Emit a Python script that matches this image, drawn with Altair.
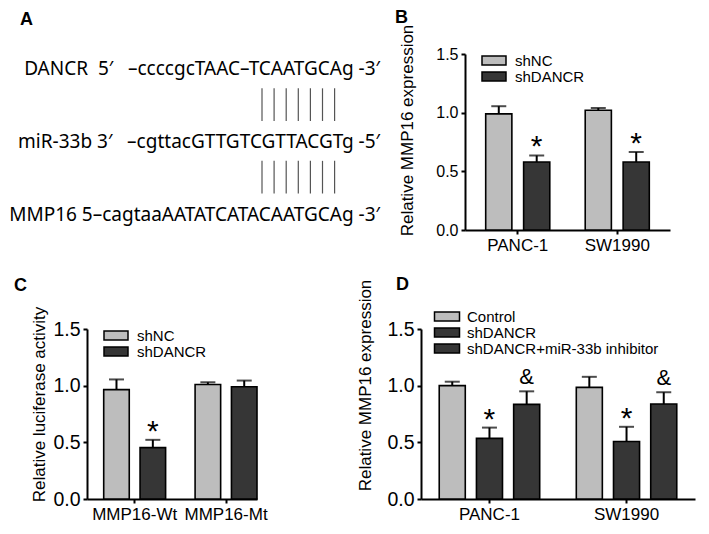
import altair as alt
import pandas as pd

FONT = "Liberation Sans"
SEQ_FONT = "Noto Sans"
LIGHT = "#bdbdbd"
DARK = "#363636"
NB = "\u00a0"

# ---------------- Panel A: sequence alignment ----------------
seq_rows = [
    "DANCR" + NB * 2 + "5\u2032" + NB * 3 + "\u2013ccccgcTAAC\u2013TCAATGCAg" + NB + "-3\u2032",
    "miR-33b" + NB + "3\u2032" + NB * 3 + "\u2013cgttacGTTGTCGTTACGTg" + NB + "-5\u2032",
    "MMP16" + NB + "5\u2013cagtaaAATATCATACAATGCAg" + NB + "-3\u2032",
]
seq_row_index = [0, 1, 2]
seq_last_pair = [6, 6, 6]          # index of the last paired nucleotide
pair_gaps = [0, 1]
pair_index = [0, 1, 2, 3, 4, 5, 6]

# ---------------- Panel B ----------------
b_cells = ["PANC-1", "PANC-1", "SW1990", "SW1990"]
b_groups = ["shNC", "shDANCR", "shNC", "shDANCR"]
b_values = [0.99, 0.58, 1.02, 0.58]
b_errors = [1.055, 0.635, 1.04, 0.665]
b_marks = ["", "*", "", "*"]

# ---------------- Panel C ----------------
c_cells = ["MMP16-Wt", "MMP16-Wt", "MMP16-Mt", "MMP16-Mt"]
c_groups = ["shNC", "shDANCR", "shNC", "shDANCR"]
c_values = [0.965, 0.453, 1.01, 0.99]
c_errors = [1.055, 0.522, 1.03, 1.045]
c_marks = ["", "*", "", ""]

# ---------------- Panel D ----------------
d_cells = ["PANC-1"] * 3 + ["SW1990"] * 3
d_groups = ["Control", "shDANCR", "shDANCR+miR-33b inhibitor"] * 2
d_values = [1.0, 0.535, 0.835, 0.985, 0.508, 0.838]
d_errors = [1.035, 0.63, 0.95, 1.078, 0.637, 0.942]
d_marks = ["", "*", "&", "", "*", "&"]

# ---------------- layout ----------------
COL_SP, ROW_SP = 164, 99
A_W, C_W = 170, 170
B_INSET, B_W = 44, 205
D_W = 274
ROW1_H, ROW2_H = 176, 170


def letter(t, dx, dy):
    return alt.TitleParams(t, anchor="start", frame="group", dx=dx, dy=dy,
                           fontSize=18, fontWeight="bold", font=FONT, color="black")


# Panel A chart
rows_df = pd.DataFrame({"row": seq_row_index, "seq": seq_rows, "anchor": seq_last_pair})
pairs_df = pd.DataFrame([{"gap": g, "idx": i} for g in pair_gaps for i in pair_index])
y_rows = alt.Scale(domain=[-0.2134, 2.2134], reverse=True)
x_pairs = alt.Scale(domain=[0, 6], range=[175, 247.6])

seq_text = alt.Chart(rows_df).mark_text(
    align="right", baseline="middle", fontSize=19, font=SEQ_FONT, color="black", dx=45.4
).encode(
    x=alt.X("anchor:Q", scale=x_pairs, axis=None),
    y=alt.Y("row:Q", scale=y_rows, axis=None),
    text="seq:N",
)
pair_lines = alt.Chart(pairs_df).transform_calculate(
    top="datum.gap + 0.26", bottom="datum.gap + 0.71"
).mark_rule(color="#555555", strokeWidth=1.2).encode(
    x=alt.X("idx:Q", scale=x_pairs, axis=None),
    y=alt.Y("top:Q", scale=y_rows, axis=None),
    y2="bottom:Q",
)
panel_a = alt.layer(seq_text, pair_lines).properties(
    width=A_W, height=ROW1_H, title=letter("A", -67, -21)
)


def bar_panel(cells, groups, values, errors, marks, colors, inset, width, height,
              pad_in, pad_out, align, off_pad, y_title, tick_font, title_x, title_y,
              legend_x, legend_y, sym_path, label_offset, let, let_dx, let_dy):
    df = pd.DataFrame({"cell": cells, "grp": groups, "val": values,
                       "err": errors, "mark": marks})
    cell_order = list(dict.fromkeys(cells))
    grp_order = list(dict.fromkeys(groups))
    base = alt.Chart(df).encode(
        x=alt.X("cell:N", sort=cell_order,
                scale=alt.Scale(paddingInner=pad_in, paddingOuter=pad_out, align=align,
                                range=[inset, inset + width]),
                axis=alt.Axis(title=None, labelAngle=0, labelFontSize=17)),
        xOffset=alt.XOffset("grp:N", sort=grp_order,
                            scale=alt.Scale(paddingInner=off_pad, paddingOuter=0)),
    )
    bars = base.mark_bar(stroke="black", strokeWidth=1.6).encode(
        y=alt.Y("val:Q", scale=alt.Scale(domain=[0, 1.5], nice=False),
                axis=alt.Axis(values=[0, 0.5, 1.0, 1.5], format=".1f", title=y_title,
                              labelFontSize=tick_font, titleX=title_x, titleY=title_y,
                              titleBaseline="middle", offset=-inset)),
        color=alt.Color("grp:N", sort=grp_order,
                        scale=alt.Scale(domain=grp_order, range=colors),
                        legend=alt.Legend(title=None, orient="none", legendX=inset + legend_x,
                                          legendY=legend_y, symbolType=sym_path,
                                          symbolSize=196, symbolStrokeColor="black",
                                          symbolStrokeWidth=1.5, symbolOpacity=1,
                                          labelFontSize=15, labelFont=FONT,
                                          labelColor="black", labelOffset=label_offset,
                                          labelLimit=400, rowPadding=-3, padding=0)),
    )
    err_rule = base.mark_rule(color="black", strokeWidth=2).encode(y="val:Q", y2="err:Q")
    err_cap = base.mark_tick(color="black", thickness=2, size=15).encode(y="err:Q")
    star = base.transform_filter("datum.mark == '*'").mark_text(
        fontSize=30, font=FONT, baseline="alphabetic", dy=1, color="black"
    ).encode(y="err:Q", text="mark:N")
    amp = base.transform_filter("datum.mark == '&'").mark_text(
        fontSize=22, font=FONT, baseline="alphabetic", dy=-7, color="black"
    ).encode(y="err:Q", text="mark:N")
    return alt.layer(bars, err_rule, err_cap, star, amp).properties(
        width=inset + width, height=height, title=letter(let, inset + let_dx, let_dy)
    )


BOX_B = "M-1.714,-0.643H1.714V0.643H-1.714Z"
BOX_D = "M-1.786,-0.643H1.786V0.643H-1.786Z"

panel_b = bar_panel(b_cells, b_groups, b_values, b_errors, b_marks, [LIGHT, DARK],
                    B_INSET, B_W, ROW1_H, 0.356, 0.208, 0.5, 0.31,
                    "Relative MMP16 expression", 16, -58, 76,
                    21, -1.5, BOX_B, 13, "B", -70, 7)
panel_c = bar_panel(c_cells, c_groups, c_values, c_errors, c_marks, [LIGHT, DARK],
                    0, C_W, ROW2_H, 0.3226, 0.0914, 1, 0.297,
                    "Relative luciferase activity", 19.5, -48, 75,
                    21, -1.5, BOX_B, 13, "C", -73, -7)
panel_d = bar_panel(d_cells, d_groups, d_values, d_errors, d_marks, [LIGHT, DARK, DARK],
                    0, D_W, ROW2_H, 0.267, 0.133, 0.5, 0.3,
                    "Relative MMP16 expression", 19.5, -56, 56,
                    18, -20.5, BOX_D, 12, "D", -25, 19)

chart = alt.concat(
    panel_a, panel_b, panel_c, panel_d,
    columns=2, bounds="flush", align="each",
    spacing={"row": ROW_SP, "column": COL_SP},
).resolve_scale(
    color="independent", xOffset="independent"
).properties(padding=0).configure_view(stroke="transparent").configure_axis(
    domainColor="black", domainWidth=2, tickColor="black", tickWidth=2, tickSize=4,
    labelColor="black", titleColor="black", labelFont=FONT, titleFont=FONT,
    titleFontWeight="normal", titleFontSize=17, grid=False, labelPadding=3,
).configure_legend(labelFont=FONT, labelColor="black")

chart.save("out.html", embed_options={"renderer": "svg", "actions": False})
